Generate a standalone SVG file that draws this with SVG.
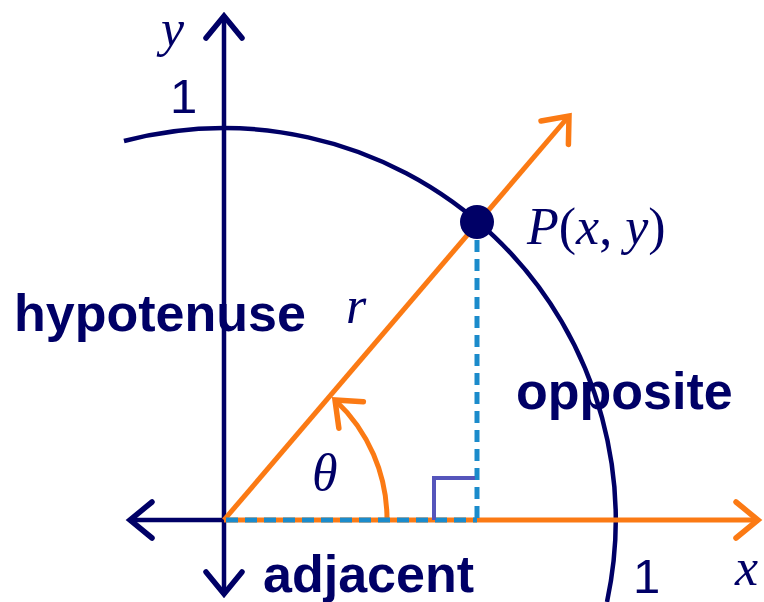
<svg xmlns="http://www.w3.org/2000/svg" width="764" height="602" viewBox="0 0 764 602">
<style>
.navy{stroke:#000066;fill:none;stroke-width:4.5}
.orange{stroke:#fb7a14;fill:none;stroke-width:5}
.dash{stroke:#1b8bcb;fill:none;stroke-width:5;stroke-dasharray:12 7}
.lbl{font-family:"Liberation Sans",Arial,sans-serif;font-weight:bold;font-size:52px;fill:#000066}
.num{font-family:"Liberation Sans",Arial,sans-serif;font-size:49px;fill:#000066}
.math{font-family:"Liberation Serif","Times New Roman",serif;font-style:italic;font-size:52px;fill:#000066}
</style>
<defs>
<marker id="aN" markerUnits="userSpaceOnUse" markerWidth="50" markerHeight="50" viewBox="-30 -25 50 50" refX="0" refY="0" orient="auto" overflow="visible">
<path d="M-22,-18 L0,0 L-22,18" fill="none" stroke="#000066" stroke-width="5.5" stroke-linecap="round"/>
</marker>
<marker id="aO" markerUnits="userSpaceOnUse" markerWidth="50" markerHeight="50" viewBox="-30 -25 50 50" refX="0" refY="0" orient="auto" overflow="visible">
<path d="M-22,-18 L0,0 L-22,18" fill="none" stroke="#fb7a14" stroke-width="5.5" stroke-linecap="round"/>
</marker>
</defs>
<g id="connectors">
<path id="unit-circle" class="navy" d="M124,141 A392,392 0 0,1 607,602"/>
<line id="y-axis-up" class="navy" x1="224" y1="520" x2="224" y2="16" marker-end="url(#aN)"/>
<line id="y-axis-down" class="navy" x1="224" y1="520" x2="224" y2="594" marker-end="url(#aN)"/>
<line id="x-axis-left" class="navy" x1="224" y1="520" x2="130" y2="520" marker-end="url(#aN)"/>
<line id="x-axis-right" class="orange" x1="224" y1="520" x2="758" y2="520" marker-end="url(#aO)"/>
<line id="ray" class="orange" x1="224" y1="520" x2="569" y2="116" marker-end="url(#aO)"/>
<path id="theta-arc" class="orange" d="M387,520 A163,163 0 0,0 335,400" marker-end="url(#aO)"/>
<line id="adjacent-side" class="dash" x1="226" y1="520" x2="477" y2="520"/>
<line id="opposite-side" class="dash" x1="477" y1="240" x2="477" y2="520"/>
<path id="right-angle" d="M434,520 V478 H475" fill="none" stroke="#5555bb" stroke-width="4"/>
</g>
<g id="point-P"><circle cx="477" cy="222" r="17" fill="#000066"/></g>
<g id="label-y"><text class="math" x="161" y="46" font-size="48">y</text></g>
<g id="label-1-top"><text class="num" x="170" y="113">1</text></g>
<g id="label-hypotenuse"><text class="lbl" x="14" y="331">hypotenuse</text></g>
<g id="label-r"><text class="math" x="346" y="323">r</text></g>
<g id="label-P"><text class="math" x="527" y="244" font-size="54">P<tspan font-style="normal">(</tspan>x<tspan font-style="normal">, </tspan>y<tspan font-style="normal">)</tspan></text></g>
<g id="label-opposite"><text class="lbl" x="516" y="409">opposite</text></g>
<g id="label-theta"><text class="math" x="312" y="490">θ</text></g>
<g id="label-adjacent"><text class="lbl" x="263" y="592">adjacent</text></g>
<g id="label-1-bottom"><text class="num" x="633" y="593">1</text></g>
<g id="label-x"><text class="math" x="735" y="585">x</text></g>
</svg>
